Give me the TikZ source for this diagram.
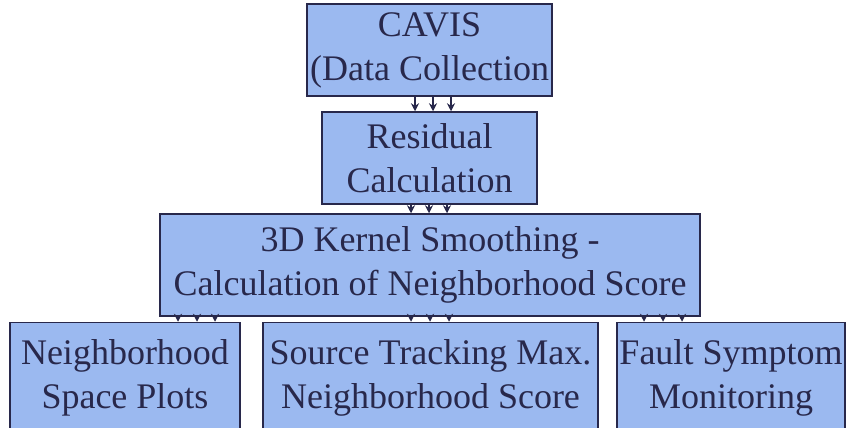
\documentclass[tikz,border=0pt]{standalone}
\usepackage{fontspec}
\setmainfont{Liberation Serif}
\usetikzlibrary{arrows.meta}
\definecolor{boxblue}{RGB}{155,185,240}
\definecolor{ink}{RGB}{40,40,75}

\begin{document}
\begin{tikzpicture}[x=1pt,y=-1pt,
  blk/.style={draw=ink, line width=1.5pt, fill=boxblue, text=ink, align=center,
    inner sep=0pt, font=\fontsize{36}{44}\selectfont},
  arr/.style={-{Stealth[length=8pt,width=8pt]}, draw=ink, line width=1.6pt}]
\useasboundingbox (0,0) rectangle (848,428);
\node [blk, minimum width=245pt, minimum height=92pt] (cavis) at (429.5,50) {CAVIS\\(Data Collection};
\node [blk, minimum width=215pt, minimum height=92pt] (resid) at (429.5,158) {Residual\\Calculation};
\node [blk, minimum width=540pt, minimum height=102pt] (kern) at (430,265) {3D Kernel Smoothing -\\Calculation of Neighborhood Score};
\node [blk, minimum width=230pt, minimum height=111pt] (nsp) at (125,378) {Neighborhood\\Space Plots};
\node [blk, minimum width=335pt, minimum height=111pt] (src) at (430.5,378) {Source Tracking Max.\\Neighborhood Score};
\node [blk, minimum width=228pt, minimum height=111pt] (fsm) at (731,378) {Fault Symptom\\Monitoring};
% three arrows between each pair
\foreach \x in {415,433,451} \draw [arr] (\x,0 |- cavis.south) -- (\x,0 |- resid.north);
\foreach \x in {411,429,447} \draw [arr] (\x,0 |- resid.south) -- (\x,0 |- kern.north);
\foreach \x in {178,197,215} \draw [arr] (\x,0 |- kern.south) -- (\x,0 |- nsp.north);
\foreach \x in {411,430,449} \draw [arr] (\x,0 |- kern.south) -- (\x,0 |- src.north);
\foreach \x in {644,663,682} \draw [arr] (\x,0 |- kern.south) -- (\x,0 |- fsm.north);
\end{tikzpicture}
\end{document}
